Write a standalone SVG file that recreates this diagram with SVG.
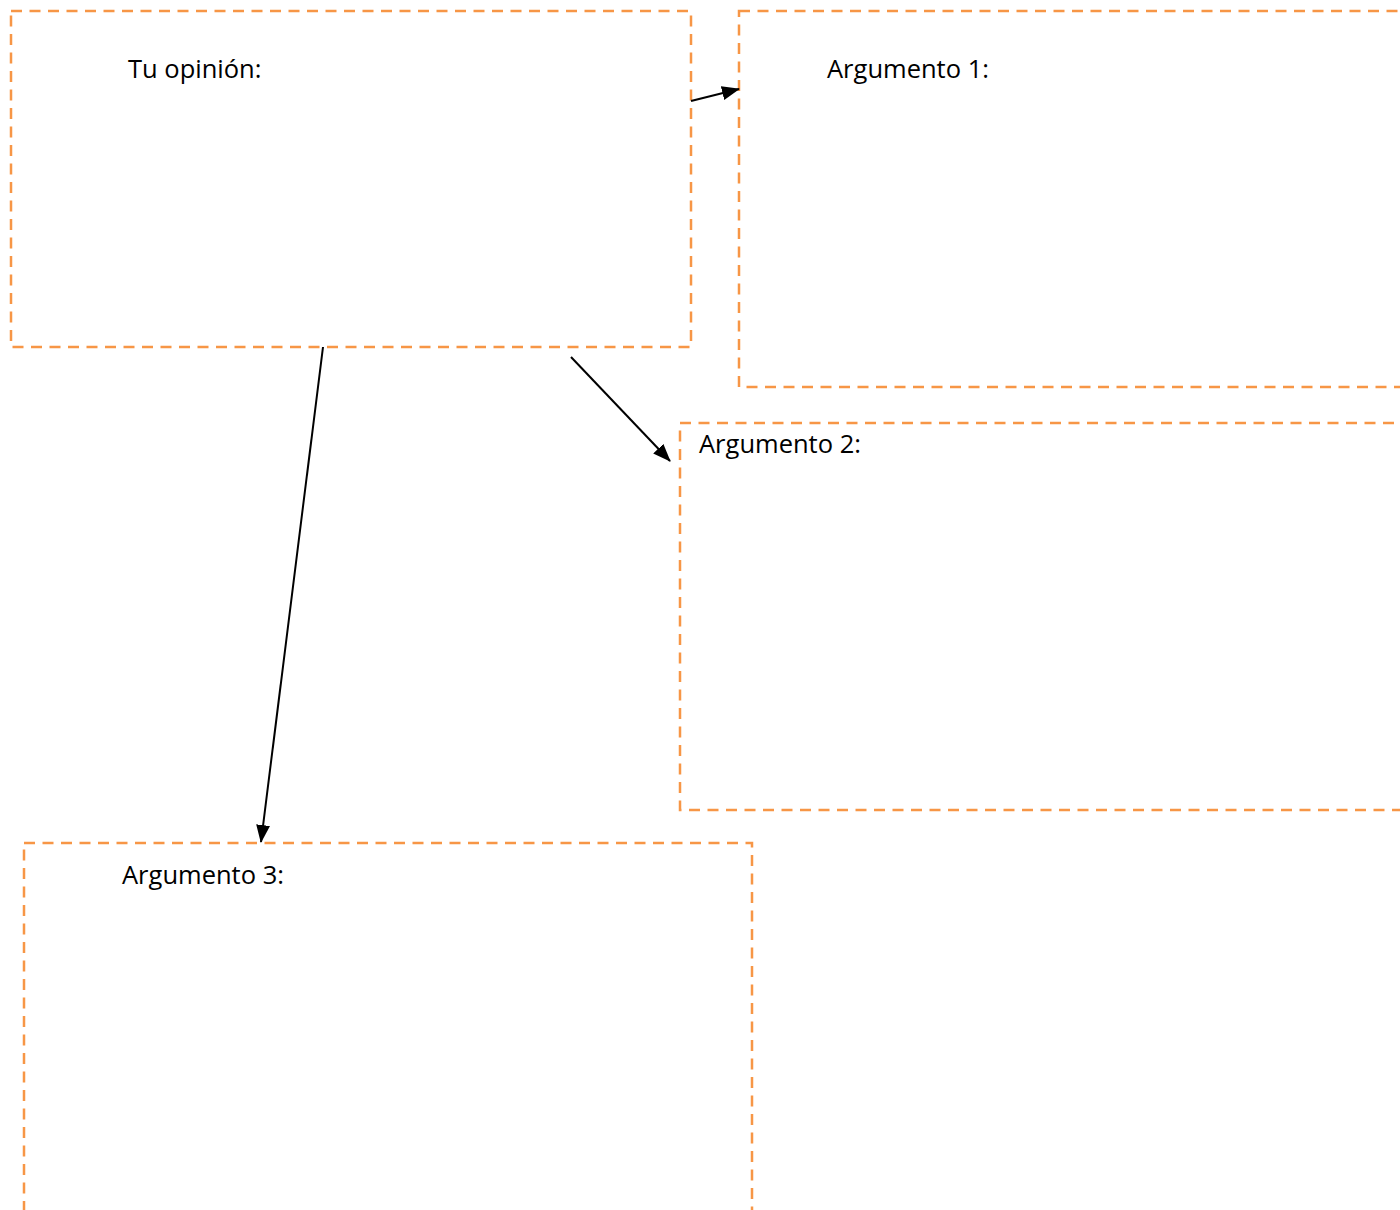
<svg xmlns="http://www.w3.org/2000/svg" width="1400" height="1210" viewBox="0 0 1400 1210">
<style>
.box{fill:none;stroke:#f79646;stroke-width:2.5;stroke-dasharray:11 7.5}
.lbl{font-family:"Open Sans","Noto Sans",sans-serif;font-size:25.5px;fill:#000}
.conn{stroke:#000;stroke-width:2;fill:none}
</style>
<defs>
<marker id="ah" markerUnits="userSpaceOnUse" markerWidth="18" markerHeight="14" refX="17" refY="7" orient="auto">
<path d="M0,0 L18,7 L0,14 Z" fill="#000"/>
</marker>
</defs>
<rect width="1400" height="1210" fill="#fff"/>
<g id="opinion">
<rect class="box" x="11" y="11" width="680" height="336"/>
<text class="lbl" x="128" y="78">Tu opinión:</text>
</g>
<g id="arg1">
<rect class="box" x="739" y="11" width="700" height="376"/>
<text class="lbl" x="827" y="78">Argumento 1:</text>
</g>
<g id="arg2">
<rect class="box" x="680" y="423" width="760" height="387"/>
<text class="lbl" x="699" y="453">Argumento 2:</text>
</g>
<g id="arg3">
<rect class="box" x="24" y="843" width="728" height="400"/>
<text class="lbl" x="122" y="884">Argumento 3:</text>
</g>
<g id="connectors">
<line class="conn" x1="691" y1="101" x2="739" y2="89" marker-end="url(#ah)"/>
<line class="conn" x1="571" y1="357" x2="670" y2="461" marker-end="url(#ah)"/>
<line class="conn" x1="323" y1="347" x2="261" y2="842" marker-end="url(#ah)"/>
</g>
</svg>
